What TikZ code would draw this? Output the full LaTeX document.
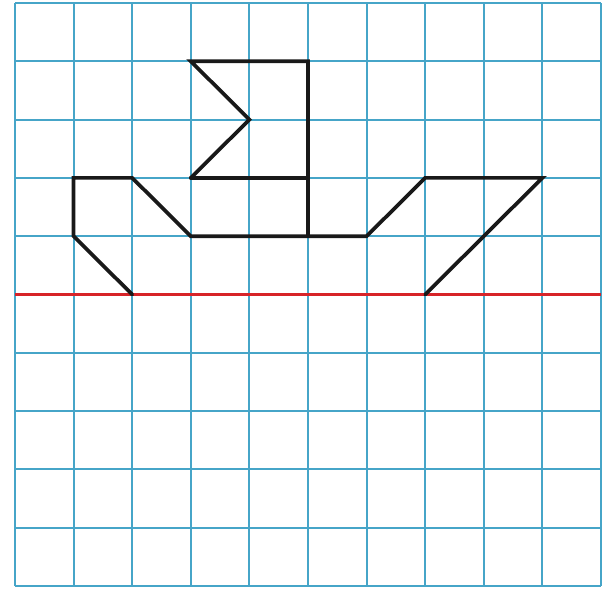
\documentclass[tikz,border=0pt]{standalone}
\definecolor{gridblue}{RGB}{70,165,200}
\definecolor{linered}{RGB}{215,35,40}
\tikzset{
  gridline/.style={draw=gridblue, line width=1pt},
  shapeline/.style={draw=black!90, line width=1.8pt, line join=miter, line cap=round},
  axisline/.style={draw=linered, line width=1.4pt}
}
\begin{document}
\begin{tikzpicture}[x=1cm, y=0.995cm]
\useasboundingbox[fill=white] (-0.256,-0.069) rectangle (10.137,10.051);
% grid
\foreach \i in {0,...,10} {
  \draw[gridline] (\i,0) -- (\i,10);
  \draw[gridline] (0,\i) -- (10,\i);
}
% red line (row 5 from top)
\draw[axisline] (0,5) -- (10,5);
% flag
\draw[shapeline] (3,7) -- (4,8) -- (3,9) -- (5,9) -- (5,6);
\draw[shapeline] (3,7) -- (5,7);
% boat
\draw[shapeline] (2,5) -- (1,6) -- (1,7) -- (2,7) -- (3,6) -- (6,6) -- (7,7) -- (9,7) -- (7,5);
\end{tikzpicture}
\end{document}
